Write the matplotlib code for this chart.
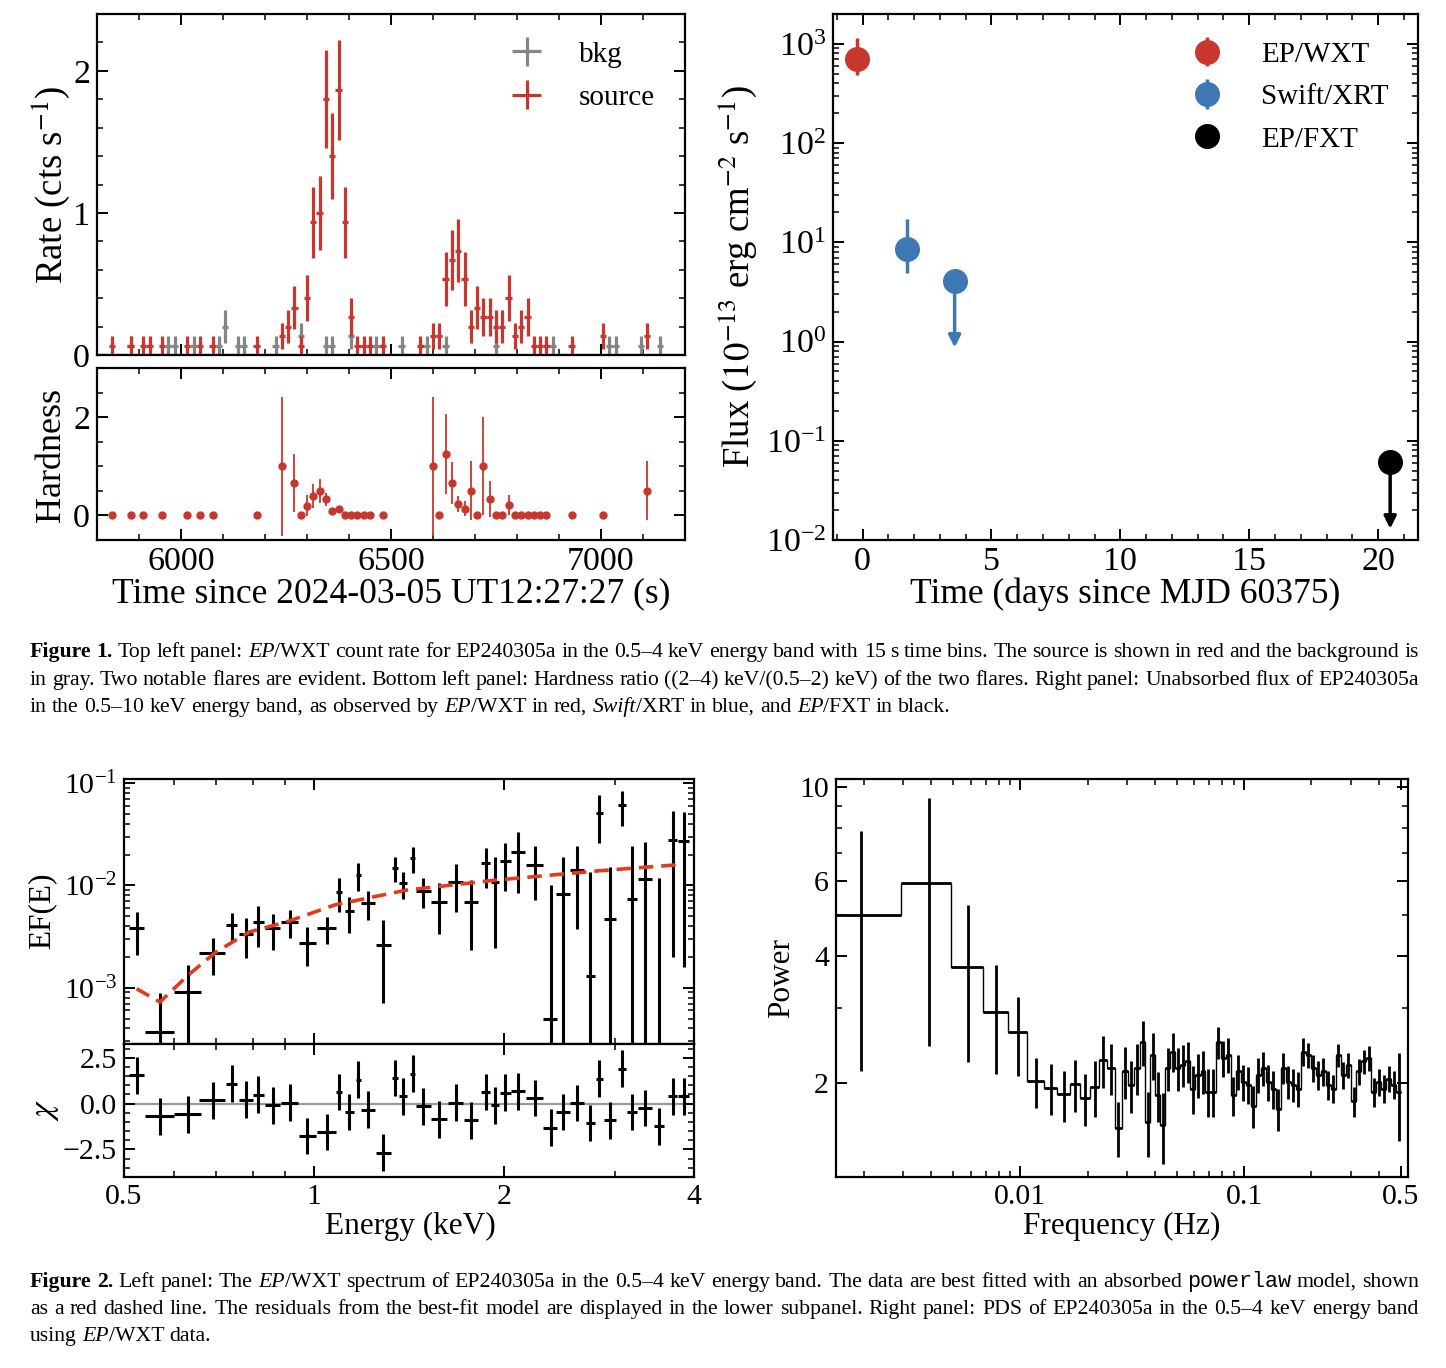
import numpy as np
import matplotlib
matplotlib.use("Agg")
import matplotlib.pyplot as plt
from matplotlib.ticker import (MultipleLocator, FixedLocator, FixedFormatter,
                               NullFormatter, LogLocator)

plt.rcParams['font.family'] = ['Liberation Serif', 'DejaVu Serif']
plt.rcParams['mathtext.fontset'] = 'stix'
plt.rcParams['axes.unicode_minus'] = True

# ---------------------------------------------------------------- data
# WXT light curve, 15 s bins (counts per bin); first bin centre 5805 s
lc_first_bin = 5805.0
lc_bin = 15.0
src_counts = [0, 0,
              1, 0, 0, 1, 0, 1, 1, 0, 1, 0,
              0, 0, 1, 0, 1, 0, 1, 0, 0, 0,
              0, 0, 0, 1, 0, 0, 0, 2, 3, 5,
              1, 6, 14, 15, 27, 21, 28, 14, 4, 1,
              1, 1, 0, 1, 0, 0, 0, 0, 0, 1,
              0, 2, 2, 8, 10, 11, 8, 3, 5, 4,
              4, 3, 3, 6, 2, 3, 4, 1, 1, 1,
              0, 0, 0, 1, 0, 0, 0, 0, 2, 0,
              0, 0, 0, 0, 0, 2, 0, 0, 0, 0,
              0, 0]
bkg_counts = [0, 0,
              0, 0, 0, 1, 0, 0, 0, 0, 0, 1,
              1, 0, 0, 1, 0, 0, 0, 1, 3, 0,
              1, 1, 0, 0, 0, 0, 1, 0, 0, 0,
              2, 0, 0, 0, 1, 1, 0, 0, 2, 0,
              0, 0, 1, 0, 0, 0, 1, 0, 0, 0,
              1, 0, 0, 1, 0, 0, 0, 0, 0, 0,
              0, 1, 0, 0, 0, 0, 0, 0, 0, 0,
              1, 0, 0, 0, 0, 0, 0, 0, 0, 1,
              1, 0, 0, 0, 1, 0, 0, 1, 0, 0,
              0, 0]

# Hardness ratio
hr_time = [5835, 5880, 5910, 5955, 6015, 6045, 6075, 6180, 6240, 6270, 6285,
           6300, 6315, 6330, 6345, 6360, 6375, 6390, 6405, 6420, 6435, 6450,
           6480, 6600, 6615, 6630, 6645, 6660, 6675, 6690, 6705, 6720, 6735,
           6750, 6765, 6780, 6795, 6810, 6825, 6840, 6855, 6870, 6930, 7005,
           7110]
hr_val = [0, 0, 0, 0, 0, 0, 0, 0, 1.0, 0.66, 0,
          0.2, 0.4, 0.5, 0.33, 0.1, 0.13, 0, 0, 0, 0, 0,
          0, 1.0, 0, 1.25, 0.66, 0.23, 0.14, 0.5, 0, 1.0, 0.33,
          0, 0, 0.21, 0, 0, 0, 0, 0, 0, 0, 0,
          0.5]
hr_err = [0, 0, 0, 0, 0, 0, 0, 0, 1.41, 0.6, 0,
          0.22, 0.24, 0.25, 0.13, 0.03, 0.05, 0, 0, 0, 0, 0,
          0, 1.41, 0, 0.82, 0.42, 0.16, 0.15, 0.6, 0, 1.0, 0.37,
          0, 0, 0.2, 0, 0, 0, 0, 0, 0, 0, 0,
          0.6]

# Long-term flux (1e-13 erg cm^-2 s^-1)
wxt_day = [-0.23]; wxt_flux = [700.0]; wxt_lo = [210.0]; wxt_hi = [450.0]
xrt_day = [1.71]; xrt_flux = [8.5]; xrt_lo = [3.6]; xrt_hi = [8.5]
xrt_ul_day = [3.57]; xrt_ul_flux = [4.1]; xrt_ul_end = [0.87]
fxt_ul_day = [20.47]; fxt_ul_flux = [0.061]; fxt_ul_end = [0.013]

# Spectrum
spec_E = [0.5236, 0.570, 0.631, 0.691, 0.741, 0.780, 0.816, 0.860, 0.916, 0.976,
          1.047, 1.097, 1.138, 1.176, 1.219, 1.288, 1.344, 1.385, 1.433, 1.49,
          1.579, 1.677, 1.773, 1.87, 1.936, 2.01, 2.107, 2.239, 2.37, 2.48,
          2.61, 2.74, 2.83, 2.945, 3.08, 3.19, 3.35, 3.52, 3.70, 3.85]
spec_dE = [0.014, 0.030, 0.030, 0.033, 0.015, 0.020, 0.016, 0.024, 0.028, 0.030,
           0.035, 0.012, 0.020, 0.010, 0.030, 0.035, 0.013, 0.020, 0.012, 0.040,
           0.048, 0.045, 0.047, 0.030, 0.030, 0.040, 0.055, 0.070, 0.060, 0.065,
           0.070, 0.045, 0.035, 0.060, 0.045, 0.060, 0.085, 0.060, 0.060, 0.075]
spec_F = [3.80e-3, 3.67e-4, 9.06e-4, 2.19e-3, 4.08e-3, 3.38e-3, 4.40e-3, 3.80e-3, 4.40e-3, 2.76e-3,
          3.80e-3, 8.65e-3, 5.60e-3, 1.262e-2, 6.76e-3, 2.64e-3, 1.489e-2, 1.047e-2, 1.866e-2, 8.85e-3,
          6.92e-3, 1.084e-2, 6.81e-3, 1.644e-2, 1.072e-2, 1.73e-2, 2.10e-2, 1.585e-2, 4.9e-4, 8.22e-3,
          1.413e-2, 1.30e-3, 5.08e-2, 4.74e-3, 6.12e-2, 7.35e-3, 1.148e-2, 1.5e-4, 2.75e-2, 2.69e-2]
spec_Ferr = [1.71e-3, 5.24e-4, 7.5e-4, 8.7e-4, 1.29e-3, 1.41e-3, 1.91e-3, 1.45e-3, 1.35e-3, 1.13e-3,
             1.1e-3, 3.1e-3, 2.16e-3, 3.8e-3, 2.15e-3, 1.93e-3, 4.16e-3, 3.1e-3, 5.3e-3, 2.9e-3,
             3.55e-3, 5.4e-3, 4.46e-3, 7.0e-3, 8.3e-3, 8.4e-3, 1.25e-2, 8.7e-3, 9.6e-3, 1.08e-2,
             1.04e-2, 1.23e-2, 2.51e-2, 1.04e-2, 2.29e-2, 1.67e-2, 1.48e-2, 1.175e-2, 2.55e-2, 2.53e-2]
spec_resid = [1.54, -0.69, -0.58, 0.18, 1.09, 0.22, 0.49, -0.09, 0.05, -1.76,
              -1.54, 0.63, -0.46, 1.30, -0.33, -2.68, 1.39, 0.40, 1.63, -0.15,
              -0.85, 0.05, -0.91, 0.63, -0.09, 0.60, 0.67, 0.31, -1.31, -0.46,
              0.04, -1.05, 1.36, -0.91, 1.90, -0.46, -0.24, -1.23, 0.40, 0.40]
model_E = [0.5236, 0.570, 0.631, 0.700, 0.790, 0.905, 1.08, 1.40, 1.94, 2.83, 3.85]
model_F = [9.77e-4, 7.24e-4, 1.318e-3, 2.24e-3, 3.51e-3, 4.40e-3, 6.46e-3, 8.99e-3,
           1.127e-2, 1.39e-2, 1.607e-2]

# Power density spectrum
pds_f = [0.00195, 0.00391, 0.00586, 0.00781, 0.00977, 0.01172, 0.01367, 0.01563,
         0.01758, 0.01953, 0.02148, 0.02344, 0.02539, 0.02734, 0.02930, 0.03125,
         0.03320, 0.03516, 0.03711, 0.03906, 0.0411, 0.0433, 0.0456, 0.0480,
         0.0506, 0.0532, 0.0561, 0.0590, 0.0622, 0.0655, 0.0689, 0.0726, 0.0764,
         0.0805, 0.0847, 0.0892, 0.0940, 0.0989, 0.1042, 0.1097, 0.1155, 0.1216,
         0.1281, 0.1349, 0.1420, 0.1496, 0.1575, 0.1658, 0.1746, 0.1839, 0.1936,
         0.2039, 0.2147, 0.2261, 0.2380, 0.2506, 0.2639, 0.2779, 0.2927, 0.3082,
         0.3245, 0.3417, 0.3598, 0.3789, 0.3990, 0.4201, 0.4424, 0.4659, 0.4906]
pds_p = [5.0, 5.94, 3.75, 2.95, 2.64, 2.02, 1.95, 1.88, 1.99, 1.84, 1.96, 2.27,
         2.17, 1.57, 2.13, 1.98, 2.17, 2.50, 1.62, 2.33, 1.87, 1.59, 2.17, 2.37,
         2.17, 2.21, 2.25, 1.94, 2.09, 2.13, 1.91, 1.91, 2.50, 2.29, 2.33, 1.87,
         2.13, 2.01, 1.98, 1.77, 2.09, 2.17, 2.01, 1.94, 1.74, 2.17, 2.01, 1.98,
         1.94, 2.37, 2.33, 2.17, 2.09, 2.13, 1.98, 1.94, 2.33, 2.09, 2.21, 1.81,
         2.13, 2.25, 2.29, 1.91, 2.01, 1.94, 2.05, 1.98, 1.91]
pds_err = [2.87, 3.5, 1.51, 0.85, 0.56, 0.27, 0.27, 0.26, 0.28, 0.26, 0.30, 0.32,
           0.30, 0.23, 0.30, 0.28, 0.30, 0.30, 0.28, 0.30, 0.25, 0.30, 0.25, 0.25,
           0.25, 0.25, 0.25, 0.25, 0.25, 0.25, 0.25, 0.25, 0.22, 0.22, 0.22, 0.20,
           0.20, 0.20, 0.20, 0.20, 0.20, 0.20, 0.20, 0.20, 0.20, 0.18, 0.18, 0.18,
           0.18, 0.18, 0.16, 0.16, 0.16, 0.16, 0.16, 0.15, 0.15, 0.15, 0.15, 0.15,
           0.15, 0.15, 0.15, 0.15, 0.15, 0.15, 0.15, 0.15, 0.45]

# ---------------------------------------------------------------- style
RED = '#c8372d'
BLUE = '#3d78b4'
GRAY = '#858585'
MODEL = '#e5391f'

W, H = 1446, 1368
fig = plt.figure(figsize=(W / 100, H / 100), dpi=100)


def ax_px(left, top, right, bottom):
    return fig.add_axes([left / W, 1 - bottom / H, (right - left) / W, (bottom - top) / H])


def style(ax, fs):
    ax.tick_params(which='both', direction='in', top=True, right=True,
                   labelsize=fs, pad=5)
    ax.tick_params(which='major', length=8, width=1.4)
    ax.tick_params(which='minor', length=4.5, width=1.1)
    for s in ax.spines.values():
        s.set_linewidth(1.6)


def flabel(x, y, text, fs, rot=0):
    fig.text(x / W, 1 - y / H, text, fontsize=fs, rotation=rot,
             ha='center', va='center')


TFS = 24.5   # top tick font
BFS = 21.5   # bottom tick font
TLF = 25.6   # top axis-label font

# ------------------------------------------------ light curve
ax1 = ax_px(97, 14, 685, 355)
t = lc_first_bin + lc_bin * np.arange(len(src_counts))
b_rate = np.array(bkg_counts) / lc_bin
b_err = np.sqrt(bkg_counts) / lc_bin
s_rate = np.array(src_counts) / lc_bin
s_err = np.sqrt(src_counts) / lc_bin
ax1.errorbar(t, b_rate, xerr=lc_bin / 2, yerr=b_err, fmt='none', ecolor=GRAY,
             elinewidth=2.3, capsize=0, label='bkg')
ax1.errorbar(t, s_rate, xerr=lc_bin / 2, yerr=s_err, fmt='none', ecolor=RED,
             elinewidth=2.3, capsize=0, label='source')
ax1.set_xlim(5800, 7200)
ax1.set_ylim(0, 2.4)
ax1.xaxis.set_major_locator(MultipleLocator(500))
ax1.xaxis.set_minor_locator(MultipleLocator(100))
ax1.yaxis.set_major_locator(MultipleLocator(1))
ax1.yaxis.set_minor_locator(MultipleLocator(0.2))
style(ax1, TFS)
ax1.tick_params(labelbottom=False)
ax1.legend(loc='upper left', bbox_to_anchor=(0.706, 0.92), frameon=False,
           fontsize=21, handlelength=1.0, handletextpad=1.3, labelspacing=0.57,
           borderaxespad=0, borderpad=0)

# ------------------------------------------------ hardness
ax2 = ax_px(97, 368, 685, 540)
ax2.errorbar(hr_time, hr_val, yerr=hr_err, fmt='o', ms=5, color=RED,
             elinewidth=1.3, capsize=0)
ax2.set_xlim(5800, 7200)
ax2.set_ylim(-0.5, 3)
ax2.xaxis.set_major_locator(MultipleLocator(500))
ax2.xaxis.set_minor_locator(MultipleLocator(100))
ax2.yaxis.set_major_locator(MultipleLocator(2))
ax2.yaxis.set_minor_locator(MultipleLocator(0.5))
style(ax2, TFS)

flabel(51, 185, 'Rate (cts s$^{-1}$)', 26.5, 90)
flabel(52, 455, 'Hardness', 26, 90)
flabel(391, 594, 'Time since 2024-03-05 UT12:27:27 (s)', TLF)

# ------------------------------------------------ long-term flux
ax3 = ax_px(833, 14, 1418, 540)
ax3.set_yscale('log')
h1 = ax3.errorbar(wxt_day, wxt_flux, yerr=[wxt_lo, wxt_hi], fmt='o', ms=17,
                  color=RED, elinewidth=2.5, capsize=0, label='EP/WXT')
h2 = ax3.errorbar(xrt_day, xrt_flux, yerr=[xrt_lo, xrt_hi], fmt='o', ms=17,
                  color=BLUE, elinewidth=2.5, capsize=0, label='Swift/XRT')
ax3.plot(xrt_ul_day, xrt_ul_flux, 'o', ms=17, color=BLUE)
h3, = ax3.plot(fxt_ul_day, fxt_ul_flux, 'o', ms=17, color='k', label='EP/FXT')
for d, f0, f1, c in [(xrt_ul_day[0], xrt_ul_flux[0], xrt_ul_end[0], BLUE),
                     (fxt_ul_day[0], fxt_ul_flux[0], fxt_ul_end[0], 'k')]:
    ax3.annotate('', xy=(d, f1), xytext=(d, f0),
                 arrowprops=dict(arrowstyle='-|>', color=c, lw=2.5,
                                 mutation_scale=18, shrinkA=0, shrinkB=0))
ax3.set_xlim(-1.15, 21.55)
ax3.set_ylim(1e-2, 2e3)
ax3.xaxis.set_major_locator(MultipleLocator(5))
ax3.xaxis.set_minor_locator(MultipleLocator(1))
ax3.yaxis.set_major_locator(LogLocator(base=10, numticks=20))
ax3.yaxis.set_minor_locator(LogLocator(base=10, subs=np.arange(2, 10), numticks=20))
ax3.yaxis.set_minor_formatter(NullFormatter())
style(ax3, TFS)
ax3.legend(handles=[h1, h2, h3], labels=['EP/WXT', 'Swift/XRT', 'EP/FXT'],
           loc='upper left', bbox_to_anchor=(0.615, 0.948), frameon=False,
           fontsize=21, handlelength=1.0, handletextpad=1.35, labelspacing=0.55,
           borderaxespad=0, borderpad=0, numpoints=1)
flabel(738, 277, 'Flux ($10^{-13}$ erg cm$^{-2}$ s$^{-1}$)', 26.5, 90)
flabel(1125, 594, 'Time (days since MJD 60375)', TLF)

# ------------------------------------------------ spectrum
ax4 = ax_px(124, 779, 694, 1044)
ax5 = ax_px(124, 1044, 694, 1177)
F = np.array(spec_F)
Fe = np.array(spec_Ferr)
lo = np.minimum(Fe, F - 1e-7)
ax4.errorbar(spec_E, spec_F, xerr=spec_dE, yerr=[lo, Fe], fmt='none',
             ecolor='k', elinewidth=2.2, capsize=0)
ax4.plot(model_E, model_F, '--', color=MODEL, lw=2.6, dashes=(4, 2.2))
ax4.set_yscale('log')
ax4.set_ylim(10 ** -3.55, 10 ** -0.96)
ax4.yaxis.set_major_locator(LogLocator(base=10, numticks=10))
ax4.yaxis.set_minor_locator(LogLocator(base=10, subs=np.arange(2, 10), numticks=10))
ax4.yaxis.set_minor_formatter(NullFormatter())
for a in (ax4, ax5):
    a.set_xscale('log')
    a.set_xlim(0.5, 4)
    a.xaxis.set_major_locator(FixedLocator([0.5, 1, 2, 4]))
    a.xaxis.set_major_formatter(FixedFormatter(['0.5', '1', '2', '4']))
    a.xaxis.set_minor_locator(FixedLocator([0.6, 0.7, 0.8, 0.9, 3]))
    a.xaxis.set_minor_formatter(NullFormatter())
    style(a, BFS)
ax4.tick_params(labelbottom=False)

ax5.axhline(0, color='#999999', lw=1.6, zorder=1)
ax5.errorbar(spec_E, spec_resid, xerr=spec_dE, yerr=1.0, fmt='none',
             ecolor='k', elinewidth=2.2, capsize=0, zorder=2)
ax5.set_ylim(-4.0, 3.25)
ax5.yaxis.set_major_locator(FixedLocator([-2.5, 0, 2.5]))
ax5.yaxis.set_major_formatter(FixedFormatter(['\u22122.5', '0.0', '2.5']))
ax5.yaxis.set_minor_locator(MultipleLocator(0.5))

flabel(42, 911, 'EF(E)', 22.5, 90)
flabel(46, 1110, '$\\chi$', 24, 90)
flabel(410, 1226, 'Energy (keV)', 22.5)

# ------------------------------------------------ PDS
ax6 = ax_px(836, 779, 1408, 1177)
f = np.array(pds_f)
edges = np.concatenate([[f[0] - (f[1] - f[0]) / 2], (f[1:] + f[:-1]) / 2,
                        [f[-1] + (f[-1] - f[-2]) / 2]])
ax6.stairs(pds_p, edges, color='k', lw=1.0, baseline=None)
ax6.errorbar(f, pds_p, xerr=[f - edges[:-1], edges[1:] - f], yerr=pds_err,
             fmt='none', ecolor='k', elinewidth=2.0, capsize=0)
ax6.set_xscale('log')
ax6.set_yscale('log')
ax6.set_xlim(0.0015, 0.54)
ax6.set_ylim(1.2, 10.45)
ax6.xaxis.set_major_locator(FixedLocator([0.01, 0.1, 0.5]))
ax6.xaxis.set_major_formatter(FixedFormatter(['0.01', '0.1', '0.5']))
ax6.xaxis.set_minor_locator(LogLocator(base=10, subs=np.arange(2, 10), numticks=10))
ax6.xaxis.set_minor_formatter(NullFormatter())
ax6.yaxis.set_major_locator(FixedLocator([2, 4, 6, 10]))
ax6.yaxis.set_major_formatter(FixedFormatter(['2', '4', '6', '10']))
ax6.yaxis.set_minor_locator(FixedLocator([3, 5, 7, 8, 9]))
ax6.yaxis.set_minor_formatter(NullFormatter())
style(ax6, BFS)
flabel(782, 978, 'Power', 22.5, 90)
flabel(1122, 1226, 'Frequency (Hz)', 22.5)

# ------------------------------------------------ captions
CAP_FS = 15.65
STY = {'r': dict(family='Liberation Serif'),
       'i': dict(family='Liberation Serif', style='italic'),
       'b': dict(family='Liberation Serif', weight='bold'),
       'm': dict(family='Liberation Mono')}
renderer = fig.canvas.get_renderer()


def split_words(segs):
    words, cur = [], []
    for txt, st in segs:
        parts = txt.split(' ')
        for i, p in enumerate(parts):
            if i > 0:
                if cur:
                    words.append(cur)
                cur = []
            if p:
                cur.append((p, st))
    if cur:
        words.append(cur)
    return words


def draw_line(y_base, segs, justify, x0=30, x1=1419):
    words = split_words(segs)
    objs = []
    widths = []
    for w in words:
        wo = []
        ww = 0
        for txt, st in w:
            tt = fig.text(0, 0, txt, fontsize=CAP_FS, va='baseline', ha='left', **STY[st])
            wd = tt.get_window_extent(renderer).width
            wo.append((tt, wd))
            ww += wd
        objs.append(wo)
        widths.append(ww)
    natural = CAP_FS * 0.25 * 100 / 72
    if justify and len(words) > 1:
        gap = (x1 - x0 - sum(widths)) / (len(words) - 1)
    else:
        gap = natural
    x = x0
    for wo, ww in zip(objs, widths):
        xx = x
        for tt, wd in wo:
            tt.set_position((xx / W, 1 - y_base / H))
            xx += wd
        x += ww + gap


cap1 = [
    [('Figure 1.', 'b'), (' Top left panel: ', 'r'), ('EP', 'i'),
     ('/WXT count rate for EP240305a in the 0.5\u20134 keV energy band with 15 s time bins. '
      'The source is shown in red and the background is', 'r')],
    [('in gray. Two notable flares are evident. Bottom left panel: Hardness ratio '
      '((2\u20134) keV/(0.5\u20132) keV) of the two flares. Right panel: Unabsorbed flux of EP240305a', 'r')],
    [('in the 0.5\u201310 keV energy band, as observed by ', 'r'), ('EP', 'i'),
     ('/WXT in red, ', 'r'), ('Swift', 'i'), ('/XRT in blue, and ', 'r'), ('EP', 'i'),
     ('/FXT in black.', 'r')],
]
cap2 = [
    [('Figure 2.', 'b'), (' Left panel: The ', 'r'), ('EP', 'i'),
     ('/WXT spectrum of EP240305a in the 0.5\u20134 keV energy band. The data are best '
      'fitted with an absorbed ', 'r'), ('powerlaw', 'm'), (' model, shown', 'r')],
    [('as a red dashed line. The residuals from the best-fit model are displayed in the lower '
      'subpanel. Right panel: PDS of EP240305a in the 0.5\u20134 keV energy band', 'r')],
    [('using ', 'r'), ('EP', 'i'), ('/WXT data.', 'r')],
]
for y, segs, j in zip([657, 685, 712], cap1, [True, True, False]):
    draw_line(y, segs, j)
for y, segs, j in zip([1287, 1314, 1341], cap2, [True, True, False]):
    draw_line(y, segs, j)

fig.savefig('out.png', dpi=100)
